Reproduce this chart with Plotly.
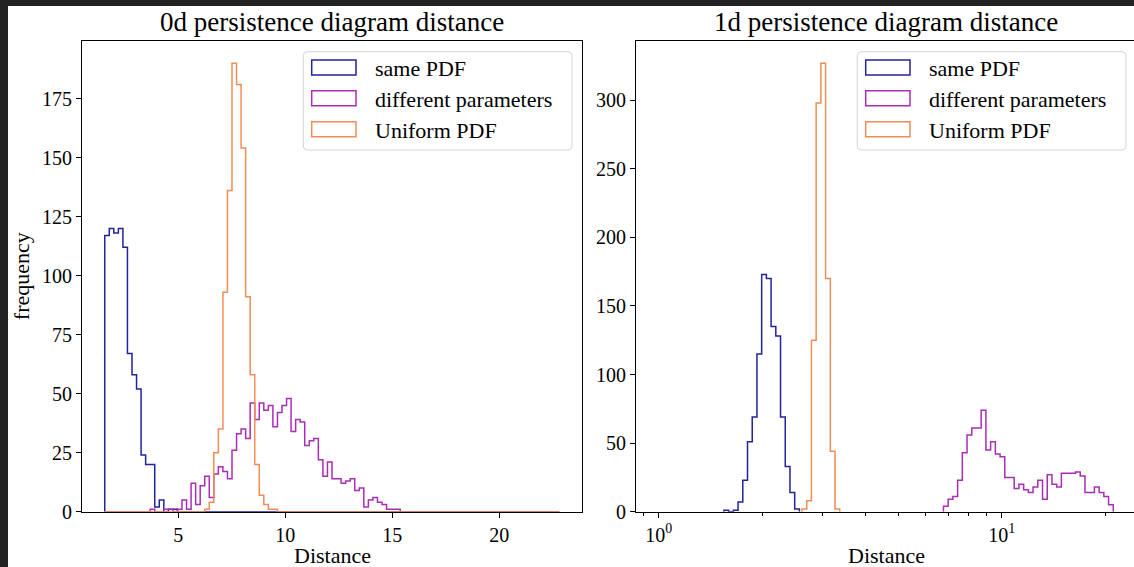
import numpy as np
import plotly.graph_objects as go

# ---------------- data ----------------
series_names = ["same PDF", "different parameters", "Uniform PDF"]
series_colors = ["#23239c", "#a82eb5", "#f08c55"]
panel_titles = ["0d persistence diagram distance", "1d persistence diagram distance"]
x_label = "Distance"
y_label = "frequency"

# left panel: 100 shared linear bins
left_bin_min = 1.56
left_bin_max = 22.8
left_n_bins = 100
left_same_counts = [117, 120, 118, 120, 112, 67, 58, 52, 24, 20, 20, 2, 5, 0, 1, 1] + [0] * 84
left_diff_counts = ([0] * 10 +
                    [1, 0, 0, 1, 1, 0, 1, 5, 1, 12,
                     3, 11, 15, 6, 16, 19, 17, 14, 26, 33,
                     35, 31, 46, 39, 46, 43, 45, 36, 42, 45,
                     48, 34, 39, 38, 28, 30, 31, 22, 15, 21,
                     14, 14, 12, 13, 14, 9, 10, 2, 5, 6,
                     4, 3, 1, 1, 1] +
                    [0] * 35)
left_uniform_counts = [0] * 22 + [1, 4, 25, 35, 93, 136, 190, 181, 154, 91, 58, 20, 7, 3, 1, 1] + [0] * 62
left_x_ticks = [5, 10, 15, 20]
left_y_ticks = [0, 25, 50, 75, 100, 125, 150, 175]

# right panel: log-spaced bins (width in decades)
right_log_bin_width = 0.01375
right_same_first_edge = 1.549
right_same_counts = [1, 0, 1, 7, 23, 51, 69, 115, 173, 170, 135, 128, 69, 33, 14, 2]
right_uniform_first_edge = 2.616
right_uniform_counts = [2, 8, 125, 298, 327, 170, 44, 2]
right_diff_first_edge = 6.76
right_diff_counts = [4, 9, 11, 23, 43, 56, 61, 61, 74, 45, 51, 42, 40, 25, 25, 17, 20, 16,
                     14, 18, 23, 9, 27, 20, 18, 28, 28, 28, 29, 26, 14, 14, 18, 14, 11, 5]
right_data_min = 1.0
right_x_major = [1, 10]
right_x_major_text = ["10<sup>0</sup>", "10<sup>1</sup>"]
right_x_minor = [0.9, 2, 3, 4, 5, 6, 7, 8, 9, 20]
right_y_ticks = [0, 50, 100, 150, 200, 250, 300]

# ---------------- layout constants (pixels) ----------------
W, H = 1134, 567
AX_L = (82, 582)
AX_R = (636, 1136)          # right panel extends past the cropped edge
AX_TOP, AX_BOT = 40.7, 511.7
FONT = "Liberation Serif"


def px(x):
    return x / W


def py(y):
    return 1 - y / H


def step_xy(edges, counts):
    edges = np.asarray(edges, dtype=float)
    counts = np.asarray(counts, dtype=float)
    x = np.concatenate([[edges[0]], edges])
    y = np.concatenate([[0.0], counts, [0.0]])
    return x, y


left_edges = np.linspace(left_bin_min, left_bin_max, left_n_bins + 1)


def log_edges(first_edge, n):
    return first_edge * 10 ** (right_log_bin_width * np.arange(n + 1))


left_data = [left_same_counts, left_diff_counts, left_uniform_counts]
right_data = [
    (log_edges(right_same_first_edge, len(right_same_counts)), right_same_counts),
    (log_edges(right_diff_first_edge, len(right_diff_counts)), right_diff_counts),
    (log_edges(right_uniform_first_edge, len(right_uniform_counts)), right_uniform_counts),
]

fig = go.Figure()
for name, color, counts in zip(series_names, series_colors, left_data):
    x, y = step_xy(left_edges, counts)
    fig.add_trace(go.Scatter(x=x, y=y, mode="lines", line=dict(shape="hv", color=color, width=1.5),
                             name=name, showlegend=False, xaxis="x", yaxis="y", hoverinfo="skip"))
for name, color, (edges, counts) in zip(series_names, series_colors, right_data):
    x, y = step_xy(edges, counts)
    fig.add_trace(go.Scatter(x=x, y=y, mode="lines", line=dict(shape="hv", color=color, width=1.5),
                             name=name, showlegend=False, xaxis="x2", yaxis="y2", hoverinfo="skip"))

axis_common = dict(showline=True, linecolor="black", linewidth=1, ticks="outside",
                   ticklen=5, tickwidth=1, tickcolor="black", showgrid=False, zeroline=False,
                   automargin=False,
                   tickfont=dict(family=FONT, size=20, color="black"))

lmax = max(max(c) for c in left_data)
rmax = max(max(c) for _, c in right_data)
lspan = left_bin_max - left_bin_min
rlo = np.log10(right_data_min)
rhi = np.log10(right_diff_first_edge) + right_log_bin_width * len(right_diff_counts)
r0 = rlo - 0.05 * (rhi - rlo)
r1 = rhi + 0.05 * (rhi - rlo)
# visible part of the right panel (cut at the picture edge)
r1_visible = r0 + (r1 - r0) * (W - AX_R[0]) / (AX_R[1] - AX_R[0])

fig.update_layout(
    width=W, height=H, autosize=False,
    margin=dict(l=0, r=0, t=0, b=0, pad=0, autoexpand=False),
    paper_bgcolor="#232323", plot_bgcolor="white",
    xaxis=dict(domain=[px(AX_L[0]), px(AX_L[1])], anchor="y", mirror=True,
               range=[left_bin_min - 0.05 * lspan, left_bin_max + 0.05 * lspan],
               tickmode="array", tickvals=left_x_ticks, **axis_common),
    yaxis=dict(domain=[py(AX_BOT), py(AX_TOP)], anchor="x", range=[0, lmax * 1.05], mirror=True,
               tickmode="array", tickvals=left_y_ticks, **axis_common),
    xaxis2=dict(domain=[px(AX_R[0]), 1.0], anchor="y2", type="log", mirror=True,
                range=[r0, r1_visible],
                tickmode="array", tickvals=right_x_major, ticktext=right_x_major_text,
                minor=dict(tickmode="array", tickvals=right_x_minor, ticks="outside",
                           ticklen=3, tickwidth=0.8, tickcolor="black"),
                **axis_common),
    yaxis2=dict(domain=[py(AX_BOT), py(AX_TOP)], anchor="x2", range=[0, rmax * 1.05], mirror=False,
                tickmode="array", tickvals=right_y_ticks, **axis_common),
    showlegend=False,
)

shapes = [dict(type="rect", xref="paper", yref="paper", x0=px(8), x1=1, y0=0, y1=py(6),
               fillcolor="white", line=dict(width=0), layer="below")]
annotations = []


def rounded_path(x0, y0, x1, y1, r):
    pts = [
        f"M {px(x0 + r)},{py(y0)}", f"L {px(x1 - r)},{py(y0)}", f"Q {px(x1)},{py(y0)} {px(x1)},{py(y0 + r)}",
        f"L {px(x1)},{py(y1 - r)}", f"Q {px(x1)},{py(y1)} {px(x1 - r)},{py(y1)}",
        f"L {px(x0 + r)},{py(y1)}", f"Q {px(x0)},{py(y1)} {px(x0)},{py(y1 - r)}",
        f"L {px(x0)},{py(y0 + r)}", f"Q {px(x0)},{py(y0)} {px(x0 + r)},{py(y0)}", "Z"]
    return " ".join(pts)


for ax, title in zip([AX_L, AX_R], panel_titles):
    cx = (ax[0] + ax[1]) / 2
    annotations.append(dict(text=title, x=px(cx), y=py(22), xref="paper", yref="paper",
                            xanchor="center", yanchor="middle", showarrow=False,
                            font=dict(family=FONT, size=27, color="black")))
    annotations.append(dict(text=x_label, x=px(cx), y=py(555), xref="paper", yref="paper",
                            xanchor="center", yanchor="middle", showarrow=False,
                            font=dict(family=FONT, size=22, color="black")))
    # legend
    lx0 = ax[0] + 221.3
    lx1 = lx0 + 268.7
    shapes.append(dict(type="path", xref="paper", yref="paper", path=rounded_path(lx0, 51.7, lx1, 150, 4),
                       fillcolor="rgba(255,255,255,0.8)", line=dict(color="#d4d4d4", width=1)))
    for i, (name, color) in enumerate(zip(series_names, series_colors)):
        cy = 67.5 + i * 30.85
        shapes.append(dict(type="rect", xref="paper", yref="paper",
                           x0=px(lx0 + 8.4), x1=px(lx0 + 52.7), y0=py(cy + 7.5), y1=py(cy - 7.5),
                           line=dict(color=color, width=1.5), fillcolor="rgba(0,0,0,0)"))
        annotations.append(dict(text=name, x=px(lx0 + 69.4), y=py(cy + 1), xref="paper", yref="paper",
                                xanchor="left", yanchor="middle", showarrow=False,
                                font=dict(family=FONT, size=22, color="black")))

annotations.append(dict(text=y_label, x=px(21), y=py((AX_TOP + AX_BOT) / 2), xref="paper", yref="paper",
                        xanchor="center", yanchor="middle", textangle=-90, showarrow=False,
                        font=dict(family=FONT, size=22, color="black")))

fig.update_layout(shapes=shapes, annotations=annotations)

fig.write_html("out.html", config={"displayModeBar": False, "responsive": False},
               post_script="document.body.style.margin='0';document.body.style.overflow='hidden';"
                           "document.body.style.background='#232323';")
